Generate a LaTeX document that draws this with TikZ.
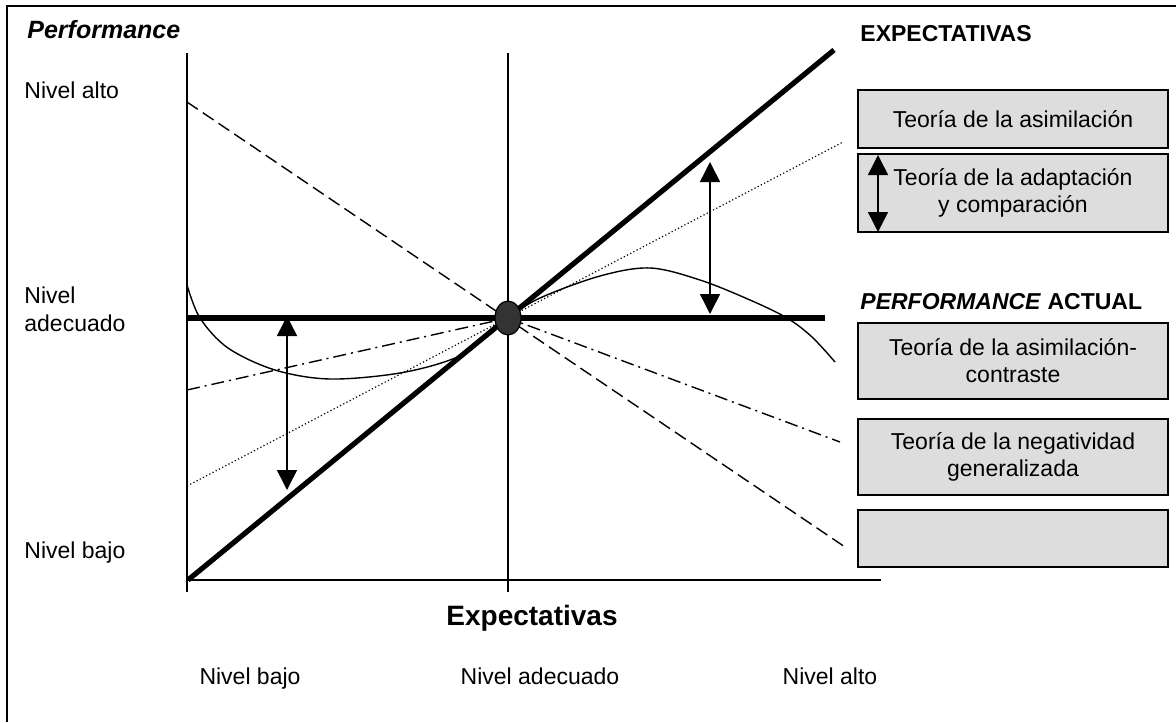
\documentclass[tikz,border=0pt]{standalone}
\usepackage{fontspec}
\setmainfont{Liberation Sans}
\usetikzlibrary{arrows.meta,shapes.geometric}
\definecolor{boxgray}{RGB}{221,221,221}
\definecolor{dotgray}{RGB}{51,51,51}
\tikzset{
  axisline/.style={line width=0.75pt},
  heavyline/.style={line width=2.6pt},
  thinline/.style={line width=0.7pt},
  longdash/.style={line width=0.7pt, dash pattern=on 6.5pt off 3pt},
  dashdotline/.style={line width=0.7pt, dash pattern=on 6.5pt off 2.5pt on 1pt off 2.5pt},
  dotline/.style={line width=0.6pt, dash pattern=on 0.6pt off 1.2pt},
  dblarrow/.style={line width=0.75pt, {Triangle[width=10pt,length=10pt]}-{Triangle[width=10pt,length=10pt]}},
  theorybox/.style={draw, line width=1pt, fill=boxgray, minimum width=155pt, inner sep=0pt, align=center, font=\fontsize{11.5}{13.5}\selectfont},
  lbl/.style={inner sep=0pt, font=\fontsize{11.5}{13.5}\selectfont},
  boldlbl/.style={inner sep=0pt, font=\fontsize{11.5}{13.5}\selectfont\bfseries}
}
\begin{document}
\begin{tikzpicture}[x=0.5pt,y=-0.5pt]
\useasboundingbox (0,0) rectangle (1176,722);
% frame (top and left only)
\coordinate (fTR) at (1176,6);
\coordinate (fTL) at (7,6);
\coordinate (fBL) at (7,722);
\draw[line width=1.1pt] (fTR) -- (fTL) -- (fBL);

% axes
\coordinate (yTop) at (187,53);
\coordinate (yBot) at (187,592);
\coordinate (xL) at (187,580);
\coordinate (xR) at (881,580);
\coordinate (mTop) at (508,53);
\coordinate (mBot) at (508,592);
\draw[axisline] (yTop) -- (yBot);
\draw[axisline] (xL) -- (xR);
\draw[axisline] (mTop) -- (mBot);

\coordinate (C) at (508,318);

% dashed line
\coordinate (dA) at (187,102);
\coordinate (dB) at (845,547);
\draw[longdash] (dA) -- (dB);

% dash-dot line
\coordinate (ddA) at (187,390);
\coordinate (ddB) at (840,442);
\draw[dashdotline] (ddA) -- (C) -- (ddB);

% dotted line
\coordinate (dtA) at (187,486);
\coordinate (dtB) at (843,142);
\draw[dotline] (dtA) -- (dtB);

% solid curve
\draw[thinline] plot[smooth, tension=0.55] coordinates {(187,285) (200,318) (228,348) (275,370) (330,379) (400,373) (455,358) (488,336) (508,318) (540,298) (600,276) (650,268) (700,280) (750,300) (787,318) (812,337) (835,362)};

% heavy lines
\coordinate (hA) at (187,318);
\coordinate (hB) at (825,318);
\draw[heavyline] (hA) -- (hB);
\coordinate (tA) at (188,580);
\coordinate (tB) at (834,50);
\draw[heavyline] (tA) -- (tB);

% centre point
\node[ellipse, draw, line width=0.6pt, fill=dotgray, minimum width=13pt, minimum height=17pt, inner sep=0pt] (cp) at (C) {};

% double arrows in chart
\coordinate (a1T) at (287,316);
\coordinate (a1B) at (287,490);
\draw[dblarrow] (a1T) -- (a1B);
\coordinate (a2T) at (710,162);
\coordinate (a2B) at (710,314);
\draw[dblarrow] (a2T) -- (a2B);

% left labels
\node[boldlbl, font=\fontsize{12.5}{14}\selectfont\bfseries\itshape, anchor=base west] (perf) at (27,39) {Performance};
\node[lbl, anchor=base west] (nalto) at (24,98) {Nivel alto};
\node[lbl, anchor=base west] (nadec1) at (24,303) {Nivel};
\node[lbl, anchor=base west] (nadec2) at (24,331) {adecuado};
\node[lbl, anchor=base west] (nbajo) at (24,558) {Nivel bajo};

% bottom labels
\node[boldlbl, font=\fontsize{14}{16}\selectfont\bfseries, anchor=base] (xlab) at (532,625) {Expectativas};
\node[lbl, anchor=base] (bx1) at (250,684) {Nivel bajo};
\node[lbl, anchor=base] (bx2) at (540,684) {Nivel adecuado};
\node[lbl, anchor=base] (bx3) at (830,684) {Nivel alto};

% right legend
\node[boldlbl, anchor=base west] (hexp) at (860,42) {EXPECTATIVAS};
\node[boldlbl, anchor=base west] (hperf) at (860,309) {\textit{PERFORMANCE} ACTUAL};

\node[theorybox, minimum height=29pt] (b1) at (1013,119) {Teoría de la asimilación};
\node[theorybox, minimum height=39pt] (b2) at (1013,193) {Teoría de la adaptación\\y comparación};
\node[theorybox, minimum height=38pt] (b3) at (1013,361) {Teoría de la asimilación-\\contraste};
\node[theorybox, minimum height=38pt] (b4) at (1013,457) {Teoría de la negatividad\\generalizada};
\node[theorybox, minimum height=28.5pt] (b5) at (1013,538.5) {};

\coordinate (la) at (878,155);
\coordinate (lb) at (878,232);
\draw[dblarrow] (la) -- (lb);
\end{tikzpicture}
\end{document}
